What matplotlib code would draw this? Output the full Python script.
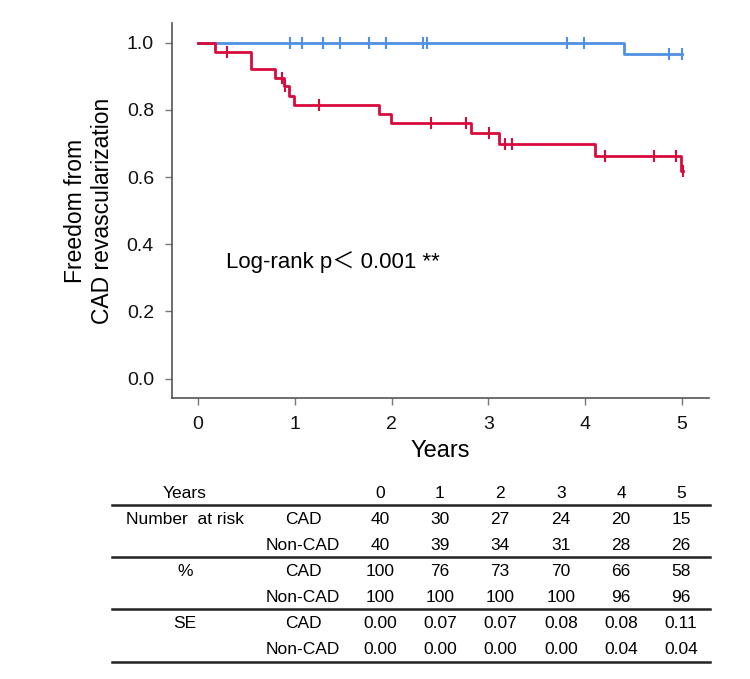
import numpy as np
import matplotlib.pyplot as plt
from matplotlib.lines import Line2D

# Kaplan-Meier curves (time in years, survival)
cad_t = [0, 0.17, 0.55, 0.79, 0.89, 0.94, 0.99, 1.87, 1.99, 2.82, 3.11, 4.10, 4.995, 5.01]
cad_s = [1.0, 0.974, 0.922, 0.896, 0.871, 0.842, 0.816, 0.787, 0.760, 0.730, 0.698, 0.663, 0.619, 0.619]
cad_cens = [0.30, 0.87, 0.90, 1.25, 2.41, 2.77, 3.01, 3.17, 3.24, 4.20, 4.71, 4.94, 5.01]

non_t = [0, 4.40, 5.0]
non_s = [1.0, 0.966, 0.966]
non_cens = [0.95, 1.07, 1.29, 1.465, 1.77, 1.94, 2.32, 2.365, 3.81, 3.99, 4.87, 5.0]

# number at risk table
tbl_years = [0, 1, 2, 3, 4, 5]
risk_cad = [40, 30, 27, 24, 20, 15]
risk_non = [40, 39, 34, 31, 28, 26]
pct_cad = [100, 76, 73, 70, 66, 58]
pct_non = [100, 100, 100, 100, 96, 96]
se_cad = ['0.00', '0.07', '0.07', '0.08', '0.08', '0.11']
se_non = ['0.00', '0.00', '0.00', '0.00', '0.04', '0.04']

red = '#d80b3c'
blue = '#4f90e2'
fonts = ['Liberation Sans', 'Noto Sans CJK JP', 'DejaVu Sans']
plt.rcParams['font.family'] = fonts

W, H = 750, 679
fig = plt.figure(figsize=(W / 100, H / 100), dpi=100)
# axes box in pixels: left 172, right 709, top 23, bottom 398
ax = fig.add_axes([172 / W, 1 - 398 / H, (709 - 172) / W, (398 - 23) / H])


def surv_at(times, surv, tc):
    idx = np.searchsorted(times, tc, side='right') - 1
    return np.array(surv)[idx]


ax.step(non_t, non_s, where='post', color=blue, lw=2)
ax.plot(non_cens, surv_at(non_t, non_s, non_cens), ls='none', marker='|',
        ms=8, mew=1.5, color=blue)
ax.step(cad_t, cad_s, where='post', color=red, lw=2)
ax.plot(cad_cens, surv_at(cad_t, cad_s, cad_cens), ls='none', marker='|',
        ms=8, mew=1.5, color=red)

ax.set_xlim(-0.27, 5.28)
ax.set_ylim(-0.058, 1.059)
ax.set_xticks(range(6))
ax.set_yticks([0, 0.2, 0.4, 0.6, 0.8, 1.0])
ax.set_yticklabels(['0.0', '0.2', '0.4', '0.6', '0.8', '1.0'])
for s in ['top', 'right']:
    ax.spines[s].set_visible(False)
for s in ['left', 'bottom']:
    ax.spines[s].set_color('#555555')
    ax.spines[s].set_linewidth(1.2)
ax.tick_params(colors='#777777', labelcolor='#111111', labelsize=14,
               length=5, width=1, pad=8)

ax.set_xlabel('Years', fontsize=17, labelpad=5)
ax.set_ylabel('Freedom from\nCAD revascularization', fontsize=16.5, linespacing=1.25)
ax.yaxis.set_label_coords(-0.108, 0.5)

ax.text(0.286, 0.329, 'Log-rank p\uff1c 0.001 **', fontsize=16, va='baseline',
        family=fonts)


# table below the plot, positions in pixels from top-left
def ftext(x, y, s, **kw):
    fig.text(x / W, 1 - y / H, s, ha='center', va='center', fontsize=12.5, **kw)


def hline(y):
    fig.add_artist(Line2D([112 / W, 710 / W], [1 - y / H, 1 - y / H],
                          color='#222222', lw=1.8))


col_x = [380, 440, 500, 561, 621, 681]
rows_y = [519, 545, 571, 597, 623, 650]

ftext(185, 493, 'Years')
for x, v in zip(col_x, tbl_years):
    ftext(x, 493, str(v))
hline(505)

groups = [('Number  at risk', risk_cad, risk_non),
          ('%', pct_cad, pct_non),
          ('SE', se_cad, se_non)]
for g, (name, a, b) in enumerate(groups):
    y1 = rows_y[2 * g]
    y2 = rows_y[2 * g + 1]
    ftext(185, y1, name)
    ftext(303, y1, 'CAD')
    ftext(303, y2, 'Non-CAD')
    for x, v1, v2 in zip(col_x, a, b):
        ftext(x, y1, str(v1))
        ftext(x, y2, str(v2))
    hline(y2 + 12)

fig.savefig('out.png', dpi=100)
